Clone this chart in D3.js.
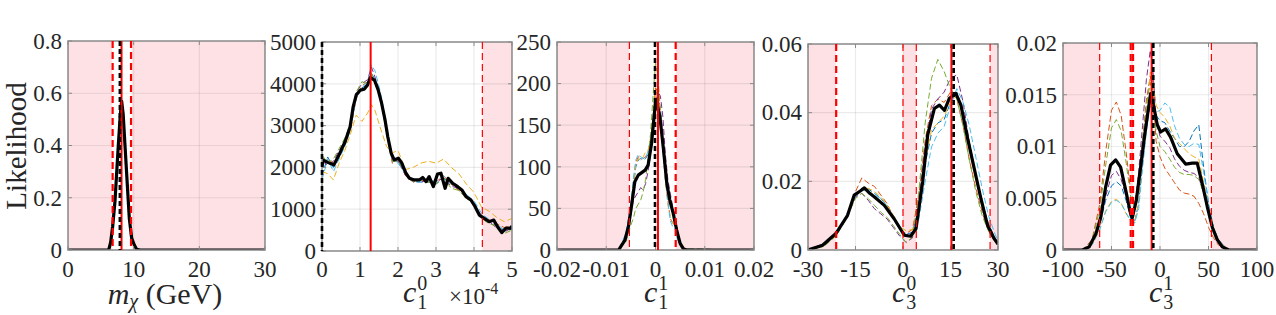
<!DOCTYPE html>
<html>
<head>
<meta charset="utf-8">
<script src="https://cdn.jsdelivr.net/npm/d3@7/dist/d3.min.js"></script>
<style>
  body { margin: 0; background: #fff; }
  svg text { font-family: "Liberation Serif", "DejaVu Serif", serif; fill: #262626; }
</style>
</head>
<body>
<div id="chart"></div>
<script>
// ---- panel 1 : m_chi ----
var mX = [0, 6.2, 6.5, 6.8, 7.15, 7.4, 7.66, 7.96, 8.17, 8.4, 8.68, 9.03, 9.34, 9.69, 10.1, 10.45, 11, 30];
var mL = [0, 0, 0.03, 0.09, 0.185, 0.29, 0.40, 0.515, 0.57, 0.52, 0.40, 0.25, 0.12, 0.046, 0.019, 0.003, 0, 0];
var mXTicks = [0, 10, 20, 30], mXLabels = ["0", "10", "20", "30"];
var mYTicks = [0, 0.2, 0.4, 0.6, 0.8], mYLabels = ["0", "0.2", "0.4", "0.6", "0.8"];
var mShade = [[0, 6.75], [9.7, 30]];
var mDashThick = [6.8, 9.6], mDashThin = [];
var mRed = 8.15, mBlack = 7.9;

// ---- panel 2 : c1^0 (x10^-4) ----
var c10X = [0, 0.02, 0.15, 0.31, 0.47, 0.61, 0.74, 0.82, 0.90, 1.01, 1.11, 1.20, 1.27, 1.38, 1.48, 1.57, 1.66, 1.73, 1.82, 1.90, 2.01, 2.10, 2.21, 2.30, 2.43, 2.56, 2.65, 2.74, 2.82, 2.93, 3.04, 3.13, 3.24, 3.32, 3.44, 3.57, 3.68, 3.79, 3.92, 4.03, 4.14, 4.27, 4.40, 4.52, 4.62, 4.73, 4.84, 4.97, 5.0];
var c10L = [1990, 2180, 2120, 2060, 2340, 2620, 2975, 3450, 3730, 3850, 3870, 3970, 4150, 4090, 3850, 3530, 3130, 2740, 2340, 2180, 2220, 2100, 1860, 1740, 1700, 1700, 1760, 1660, 1780, 1540, 1840, 1860, 1500, 1740, 1620, 1540, 1460, 1300, 1220, 1060, 860, 780, 700, 740, 580, 440, 545, 545, 600];
var c10Xc = [0, 0.15, 0.3, 0.45, 0.6, 0.75, 0.9, 1.05, 1.2, 1.3, 1.4, 1.55, 1.7, 1.85, 2.0, 2.2, 2.4, 2.6, 2.8, 3.0, 3.2, 3.4, 3.6, 3.8, 4.0, 4.2, 4.4, 4.6, 4.8, 5.0];
var c10Blue   = [1800, 2250, 2000, 2300, 2550, 3000, 3700, 3900, 4000, 4250, 4100, 3600, 2850, 2150, 2150, 1800, 1650, 1650, 1650, 1600, 1750, 1600, 1500, 1350, 1100, 800, 700, 600, 480, 520];
var c10Orange = [2100, 2200, 2100, 2250, 2650, 2900, 3650, 3950, 4050, 4200, 4000, 3700, 2950, 2100, 2200, 1800, 1650, 1700, 1650, 1650, 1800, 1600, 1450, 1300, 1150, 800, 750, 650, 560, 600];
var c10Yellow = [1900, 1850, 1700, 2100, 2400, 2800, 3250, 3100, 3300, 3500, 3350, 2900, 2500, 2350, 2400, 1950, 2000, 2100, 2150, 2100, 2200, 2000, 1850, 1600, 1400, 1050, 950, 800, 700, 780];
var c10Purple = [2150, 2050, 2150, 2400, 2650, 3000, 3800, 4000, 4100, 4400, 4150, 3700, 2900, 2200, 2150, 1850, 1700, 1650, 1700, 1650, 1750, 1550, 1500, 1300, 1100, 850, 700, 550, 450, 560];
var c10Green  = [2300, 2100, 2200, 2450, 2700, 3050, 3800, 4050, 4000, 4250, 4000, 3600, 2800, 2150, 2150, 1900, 1650, 1700, 1650, 1600, 1750, 1500, 1450, 1250, 1150, 780, 650, 600, 420, 500];
var c10Cyan   = [1700, 2200, 1900, 2200, 2500, 2900, 3650, 3900, 4050, 4450, 4300, 3750, 3000, 2200, 2100, 1850, 1700, 1650, 1700, 1650, 1800, 1600, 1550, 1350, 1200, 900, 750, 650, 500, 600];
var c10XTicks = [0, 1, 2, 3, 4, 5], c10XLabels = ["0", "1", "2", "3", "4", "5"];
var c10YTicks = [0, 1000, 2000, 3000, 4000, 5000], c10YLabels = ["0", "1000", "2000", "3000", "4000", "5000"];
var c10Shade = [[4.22, 5]];
var c10DashThick = [], c10DashThin = [4.22];
var c10Red = 1.28, c10Black = 0;

// ---- panel 3 : c1^1 ----
var c11X = [-0.02, -0.0075, -0.0062, -0.0055, -0.0048, -0.0042, -0.0035, -0.0028, -0.0021, -0.0015, -0.0008, -0.0003, 0.0001, 0.0009, 0.0016, 0.0023, 0.0029, 0.0036, 0.0043, 0.0050, 0.0057, 0.0065, 0.02];
var c11L = [0, 0, 12, 28, 56, 82, 90, 93, 96, 102, 128, 160, 181, 160, 122, 80, 60, 44, 24, 8, 1, 0, 0];
var c11Xc = [-0.02, -0.0075, -0.006, -0.005, -0.0045, -0.004, -0.0035, -0.003, -0.0025, -0.002, -0.0015, -0.001, -0.0005, 0, 0.0005, 0.001, 0.0015, 0.002, 0.0025, 0.003, 0.0035, 0.004, 0.0045, 0.005, 0.006, 0.02];
var c11Blue   = [0, 0, 18, 55, 75, 100, 108, 110, 108, 110, 115, 125, 150, 170, 185, 170, 135, 100, 80, 62, 50, 40, 20, 8, 1, 0];
var c11Orange = [0, 0, 16, 50, 82, 105, 112, 112, 110, 112, 118, 130, 160, 195, 190, 160, 120, 85, 60, 38, 32, 30, 15, 7, 1, 0];
var c11Yellow = [0, 0, 15, 48, 78, 102, 110, 108, 112, 118, 120, 135, 155, 185, 195, 165, 125, 85, 55, 40, 33, 28, 14, 7, 1, 0];
var c11Purple = [0, 0, 12, 42, 60, 65, 70, 75, 72, 80, 95, 115, 150, 175, 190, 185, 160, 115, 85, 68, 52, 40, 20, 8, 1, 0];
var c11Green  = [0, 0, 10, 30, 38, 50, 55, 60, 70, 85, 110, 140, 185, 225, 210, 165, 125, 90, 68, 55, 45, 35, 18, 7, 1, 0];
var c11Cyan   = [0, 0, 20, 55, 85, 108, 115, 112, 110, 112, 118, 128, 155, 180, 180, 155, 120, 85, 58, 35, 28, 25, 12, 6, 1, 0];
var c11XTicks = [-0.02, -0.01, 0, 0.01, 0.02], c11XLabels = ["-0.02", "-0.01", "0", "0.01", "0.02"];
var c11YTicks = [0, 50, 100, 150, 200, 250], c11YLabels = ["0", "50", "100", "150", "200", "250"];
var c11Shade = [[-0.02, -0.0053], [0.0041, 0.02]];
var c11DashThick = [0.0041], c11DashThin = [-0.0053];
var c11Red = 0.0005, c11Black = -0.0001;

// ---- panel 4 : c3^0 ----
var c30X = [-30, -25.4, -21.2, -17.5, -15.4, -13.5, -12.2, -10.5, -9.1, -5.9, -2.8, 0.4, 2.4, 4.1, 6.2, 7.8, 9.9, 11.5, 13.1, 14.6, 16.7, 18.3, 20.4, 22.5, 24.6, 26.7, 28.8, 30];
var c30L = [0, 0.0014, 0.0048, 0.0101, 0.016, 0.0172, 0.0181, 0.0165, 0.0155, 0.013, 0.0091, 0.0043, 0.004, 0.0062, 0.0198, 0.0335, 0.0412, 0.0422, 0.0407, 0.0441, 0.0456, 0.0422, 0.0325, 0.0237, 0.015, 0.0072, 0.0033, 0.0017];
var c30Xc = [-30, -25, -21, -18, -15, -13, -11, -9, -7, -5, -3, -1, 1, 3, 5, 7, 9, 11, 13, 15, 17, 19, 21, 23, 25, 27, 29, 30];
var c30Blue   = [0, 0.0018, 0.0052, 0.0098, 0.016, 0.018, 0.0178, 0.0165, 0.0150, 0.013, 0.0095, 0.0062, 0.0045, 0.0052, 0.012, 0.025, 0.034, 0.037, 0.038, 0.043, 0.046, 0.040, 0.031, 0.022, 0.014, 0.0075, 0.0035, 0.002];
var c30Orange = [0, 0.0012, 0.0046, 0.0092, 0.017, 0.021, 0.0195, 0.0185, 0.016, 0.0135, 0.0095, 0.0058, 0.0048, 0.0060, 0.016, 0.032, 0.042, 0.044, 0.043, 0.046, 0.044, 0.036, 0.026, 0.018, 0.011, 0.0055, 0.0025, 0.0015];
var c30Yellow = [0, 0.0012, 0.0045, 0.009, 0.0155, 0.0175, 0.018, 0.017, 0.0155, 0.013, 0.010, 0.0068, 0.0056, 0.0060, 0.012, 0.026, 0.035, 0.037, 0.039, 0.043, 0.045, 0.039, 0.030, 0.021, 0.013, 0.0068, 0.003, 0.0015];
var c30Purple = [0, 0.0013, 0.0048, 0.0092, 0.0155, 0.0165, 0.0145, 0.012, 0.0105, 0.009, 0.0065, 0.004, 0.0022, 0.0035, 0.014, 0.030, 0.041, 0.044, 0.046, 0.050, 0.051, 0.043, 0.031, 0.021, 0.013, 0.0065, 0.0028, 0.0015];
var c30Green  = [0, 0.001, 0.0042, 0.009, 0.015, 0.0165, 0.0150, 0.013, 0.011, 0.0095, 0.007, 0.0045, 0.0022, 0.0038, 0.017, 0.037, 0.050, 0.0555, 0.052, 0.047, 0.044, 0.036, 0.026, 0.017, 0.010, 0.0055, 0.0025, 0.0014];
var c30Cyan   = [0, 0.0018, 0.005, 0.0095, 0.0155, 0.0175, 0.017, 0.016, 0.015, 0.0128, 0.0092, 0.006, 0.0045, 0.0045, 0.009, 0.020, 0.030, 0.034, 0.036, 0.042, 0.047, 0.043, 0.036, 0.027, 0.018, 0.010, 0.0048, 0.0025];
var c30XTicks = [-30, -15, 0, 15, 30], c30XLabels = ["-30", "-15", "0", "15", "30"];
var c30YTicks = [0, 0.02, 0.04, 0.06], c30YLabels = ["0", "0.02", "0.04", "0.06"];
var c30Shade = [[-30, -21.1], [0, 4.2], [27.5, 30]];
var c30DashThick = [-21.1], c30DashThin = [0, 4.2, 27.5];
var c30Red = 15.3, c30Black = 16.0;

// ---- panel 5 : c3^1 ----
var c31X = [-100, -80, -73, -66, -61, -56, -51, -45.7, -40.6, -35.4, -30.3, -28.6, -24.4, -20, -16.5, -13.1, -9.7, -6.3, -2.8, 0.6, 5.8, 10.9, 17.8, 26.4, 33.3, 38.4, 43.6, 48.7, 53.9, 59, 64.2, 71, 100];
var c31L = [0, 0, 0.0003, 0.0016, 0.0032, 0.0061, 0.0082, 0.0087, 0.008, 0.0058, 0.0035, 0.0031, 0.0048, 0.008, 0.0106, 0.0129, 0.0151, 0.0138, 0.0121, 0.0114, 0.0117, 0.0109, 0.0093, 0.0083, 0.0084, 0.0084, 0.0064, 0.0042, 0.0022, 0.001, 0.0003, 0, 0];
var c31Xc = [-100, -80, -70, -62, -56, -50, -45, -40, -35, -30, -26, -22, -18, -14, -10, -7, -4, 0, 5, 10, 15, 20, 25, 30, 35, 40, 45, 50, 55, 60, 70, 100];
var c31Blue   = [0, 0, 0.0006, 0.0025, 0.0048, 0.0062, 0.0066, 0.0062, 0.0048, 0.003, 0.0028, 0.0045, 0.0085, 0.012, 0.0148, 0.0135, 0.013, 0.0125, 0.0123, 0.0115, 0.0108, 0.010, 0.010, 0.0105, 0.0115, 0.0121, 0.008, 0.0045, 0.0022, 0.001, 0, 0];
var c31Orange = [0, 0, 0.001, 0.0045, 0.0095, 0.0135, 0.0143, 0.013, 0.0095, 0.0055, 0.0045, 0.0065, 0.0105, 0.0145, 0.0168, 0.015, 0.0105, 0.009, 0.0079, 0.0072, 0.0065, 0.0058, 0.0055, 0.0054, 0.0052, 0.0045, 0.0035, 0.0022, 0.0012, 0.0005, 0, 0];
var c31Yellow = [0, 0, 0.0005, 0.002, 0.0038, 0.0047, 0.0049, 0.0045, 0.0035, 0.0028, 0.0027, 0.0045, 0.009, 0.013, 0.0172, 0.016, 0.014, 0.0133, 0.0128, 0.012, 0.0108, 0.0103, 0.0098, 0.0093, 0.0090, 0.0088, 0.0065, 0.0042, 0.0022, 0.001, 0, 0];
var c31Purple = [0, 0, 0.0006, 0.0025, 0.0052, 0.0072, 0.0076, 0.0068, 0.0052, 0.0038, 0.0042, 0.0075, 0.012, 0.0165, 0.0193, 0.017, 0.0125, 0.011, 0.0105, 0.0099, 0.0088, 0.0081, 0.0077, 0.0075, 0.0074, 0.0070, 0.0055, 0.0038, 0.002, 0.001, 0, 0];
var c31Green  = [0, 0, 0.0009, 0.004, 0.0082, 0.0118, 0.0126, 0.0115, 0.0085, 0.005, 0.0042, 0.0065, 0.0105, 0.014, 0.0162, 0.014, 0.0115, 0.010, 0.0095, 0.0088, 0.0080, 0.0075, 0.0073, 0.0073, 0.0072, 0.0068, 0.0055, 0.0038, 0.002, 0.0009, 0, 0];
var c31Cyan   = [0, 0, 0.0005, 0.002, 0.0037, 0.0046, 0.0048, 0.0045, 0.0036, 0.0028, 0.0026, 0.004, 0.0078, 0.0115, 0.014, 0.0135, 0.0133, 0.0135, 0.0142, 0.0138, 0.012, 0.0108, 0.0102, 0.010, 0.0103, 0.0102, 0.0075, 0.0045, 0.0022, 0.001, 0, 0];
var c31XTicks = [-100, -50, 0, 50, 100], c31XLabels = ["-100", "-50", "0", "50", "100"];
var c31YTicks = [0, 0.005, 0.01, 0.015, 0.02], c31YLabels = ["0", "0.005", "0.01", "0.015", "0.02"];
var c31Shade = [[-100, -62.2], [-30.2, -27.8], [53, 100]];
var c31DashThick = [-30.2, -27.8], c31DashThin = [-62.2, 53];
var c31Red = -8.6, c31Black = -6.9;

var colors = ["#0072bd", "#d95319", "#edb120", "#7e2f8e", "#77ac30", "#4dbeee"];
var pink = "#fde1e4", frame = "#8a8a8a";

var panels = [
  {box: [68, 41, 265, 250], xd: [0, 30], yd: [0, 0.8], xt: mXTicks, xl: mXLabels, yt: mYTicks, yl: mYLabels,
   bx: mX, by: mL, cx: null, cs: [], shade: mShade, thick: mDashThick, thin: mDashThin, red: mRed, blk: mBlack},
  {box: [322, 42, 512, 251], xd: [0, 5], yd: [0, 5000], xt: c10XTicks, xl: c10XLabels, yt: c10YTicks, yl: c10YLabels,
   bx: c10X, by: c10L, cx: c10Xc, cs: [c10Blue, c10Orange, c10Yellow, c10Purple, c10Green, c10Cyan],
   shade: c10Shade, thick: c10DashThick, thin: c10DashThin, red: c10Red, blk: c10Black},
  {box: [557, 42, 754, 250], xd: [-0.02, 0.02], yd: [0, 250], xt: c11XTicks, xl: c11XLabels, yt: c11YTicks, yl: c11YLabels,
   bx: c11X, by: c11L, cx: c11Xc, cs: [c11Blue, c11Orange, c11Yellow, c11Purple, c11Green, c11Cyan],
   shade: c11Shade, thick: c11DashThick, thin: c11DashThin, red: c11Red, blk: c11Black},
  {box: [808, 44, 998, 250], xd: [-30, 30], yd: [0, 0.06], xt: c30XTicks, xl: c30XLabels, yt: c30YTicks, yl: c30YLabels,
   bx: c30X, by: c30L, cx: c30Xc, cs: [c30Blue, c30Orange, c30Yellow, c30Purple, c30Green, c30Cyan],
   shade: c30Shade, thick: c30DashThick, thin: c30DashThin, red: c30Red, blk: c30Black},
  {box: [1063, 43, 1257, 250], xd: [-100, 100], yd: [0, 0.02], xt: c31XTicks, xl: c31XLabels, yt: c31YTicks, yl: c31YLabels,
   bx: c31X, by: c31L, cx: c31Xc, cs: [c31Blue, c31Orange, c31Yellow, c31Purple, c31Green, c31Cyan],
   shade: c31Shade, thick: c31DashThick, thin: c31DashThin, red: c31Red, blk: c31Black}
];

var svg = d3.select("#chart").append("svg")
    .attr("width", 1276)
    .attr("height", 315);

panels.forEach(function(p, i) {
  var x = d3.scaleLinear().domain(p.xd).range([p.box[0], p.box[2]]);
  var y = d3.scaleLinear().domain(p.yd).range([p.box[3], p.box[1]]);
  var g = svg.append("g");

  g.append("clipPath").attr("id", "clip" + i)
    .append("rect")
      .attr("x", p.box[0]).attr("y", p.box[1])
      .attr("width", p.box[2] - p.box[0]).attr("height", p.box[3] - p.box[1]);

  var plot = g.append("g").attr("clip-path", "url(#clip" + i + ")");

  plot.selectAll("rect.shade")
      .data(p.shade)
    .enter().append("rect")
      .attr("x", function(d) { return x(d[0]); })
      .attr("width", function(d) { return x(d[1]) - x(d[0]); })
      .attr("y", p.box[1])
      .attr("height", p.box[3] - p.box[1])
      .style("fill", pink);

  // grid
  plot.selectAll("line.gx").data(p.xt).enter().append("line")
      .attr("x1", function(d) { return x(d); }).attr("x2", function(d) { return x(d); })
      .attr("y1", p.box[1]).attr("y2", p.box[3])
      .style("stroke", "#000").style("stroke-opacity", 0.08).style("stroke-width", 1.2);
  plot.selectAll("line.gy").data(p.yt).enter().append("line")
      .attr("y1", function(d) { return y(d); }).attr("y2", function(d) { return y(d); })
      .attr("x1", p.box[0]).attr("x2", p.box[2])
      .style("stroke", "#000").style("stroke-opacity", 0.08).style("stroke-width", 1.2);

  var lineC = d3.line()
      .x(function(d, k) { return x(p.cx[k]); })
      .y(function(d) { return y(d); });
  plot.selectAll("path.run")
      .data(p.cs)
    .enter().append("path")
      .attr("d", lineC)
      .style("fill", "none")
      .style("stroke", function(d, k) { return colors[k]; })
      .style("stroke-width", 1)
      .style("stroke-dasharray", "6,3");

  var lineB = d3.line()
      .x(function(d, k) { return x(p.bx[k]); })
      .y(function(d) { return y(d); });
  plot.append("path")
      .datum(p.by)
      .attr("d", lineB)
      .style("fill", "none")
      .style("stroke", "#000")
      .style("stroke-width", 3.2)
      .style("stroke-linejoin", "round");

  // ticks (inside, all four sides)
  var tl = 4;
  var tk = g.append("g").style("stroke", frame).style("stroke-width", 1);
  p.xt.forEach(function(v) {
    tk.append("line").attr("x1", x(v)).attr("x2", x(v)).attr("y1", p.box[3]).attr("y2", p.box[3] - tl);
    tk.append("line").attr("x1", x(v)).attr("x2", x(v)).attr("y1", p.box[1]).attr("y2", p.box[1] + tl);
  });
  p.yt.forEach(function(v) {
    tk.append("line").attr("y1", y(v)).attr("y2", y(v)).attr("x1", p.box[0]).attr("x2", p.box[0] + tl);
    tk.append("line").attr("y1", y(v)).attr("y2", y(v)).attr("x1", p.box[2]).attr("x2", p.box[2] - tl);
  });

  g.append("rect")
      .attr("x", p.box[0]).attr("y", p.box[1])
      .attr("width", p.box[2] - p.box[0]).attr("height", p.box[3] - p.box[1])
      .style("fill", "none").style("stroke", frame).style("stroke-width", 1.5);

  // vertical markers, drawn over the frame
  function vline(v, color, w, dash) {
    g.append("line")
        .attr("x1", x(v)).attr("x2", x(v))
        .attr("y1", p.box[1]).attr("y2", p.box[3])
        .style("stroke", color).style("stroke-width", w)
        .style("stroke-dasharray", dash);
  }
  p.thin.forEach(function(v) { vline(v, "#ff0000", 1.2, "7,4"); });
  p.thick.forEach(function(v) { vline(v, "#ff0000", 2.2, "7,4"); });
  vline(p.red, "#ff0000", 2, null);
  vline(p.blk, "#000", 2.6, "5,3");

  g.selectAll("text.xt")
      .data(p.xt)
    .enter().append("text")
      .attr("x", function(d) { return x(d); })
      .attr("y", 277)
      .attr("text-anchor", "middle")
      .style("font-size", "23px")
      .text(function(d, k) { return p.xl[k]; });

  g.selectAll("text.yt")
      .data(p.yt)
    .enter().append("text")
      .attr("x", p.box[0] - 6)
      .attr("y", function(d) { return y(d); })
      .attr("dy", "0.34em")
      .attr("text-anchor", "end")
      .style("font-size", "23px")
      .text(function(d, k) { return p.yl[k]; });
});

// axis titles
svg.append("text")
    .attr("transform", "translate(26,146) rotate(-90)")
    .attr("text-anchor", "middle")
    .style("font-size", "29px")
    .text("Likelihood");

var mt = svg.append("text")
    .attr("x", 165).attr("y", 304)
    .attr("text-anchor", "middle")
    .style("font-size", "30px");
mt.append("tspan").style("font-style", "italic").text("m");
mt.append("tspan").style("font-style", "italic").style("font-size", "20px").attr("dy", 4).text("χ");
mt.append("tspan").attr("dy", -4).text(" (GeV)");

function cLabel(cx, sub, sup) {
  var t = svg.append("text")
      .attr("x", cx - 11).attr("y", 302)
      .style("font-size", "30px").style("font-style", "italic")
      .text("c");
  var w = t.node().getComputedTextLength();
  svg.append("text").attr("x", cx - 11 + w + 1).attr("y", 290)
      .style("font-size", "20px").text(sup);
  svg.append("text").attr("x", cx - 11 + w + 1).attr("y", 309)
      .style("font-size", "20px").text(sub);
}
cLabel(414, "1", "0");
cLabel(655, "1", "1");
cLabel(903, "3", "0");
cLabel(1160, "3", "1");

var ex = svg.append("text")
    .attr("x", 449).attr("y", 304)
    .style("font-size", "23px");
ex.append("tspan").text("×10");
ex.append("tspan").attr("dy", -10).style("font-size", "16px").text("-4");
</script>
</body>
</html>
